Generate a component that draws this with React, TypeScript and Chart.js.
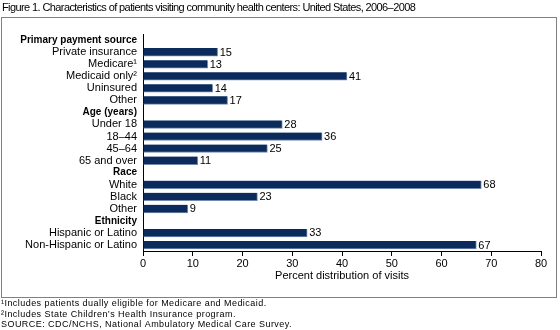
import React, { useEffect, useRef } from "react";
import { Chart, registerables } from "chart.js";

Chart.register(...registerables);

const TITLE = "Figure 1. Characteristics of patients visiting community health centers: United States, 2006–2008";
const FOOTNOTES = [
  "¹Includes patients dually eligible for Medicare and Medicaid.",
  "²Includes State Children’s Health Insurance program.",
  "SOURCE: CDC/NCHS, National Ambulatory Medical Care Survey.",
];

const categories = [
  "Primary payment source",
  "Private insurance",
  "Medicare¹",
  "Medicaid only²",
  "Uninsured",
  "Other",
  "Age (years)",
  "Under 18",
  "18–44",
  "45–64",
  "65 and over",
  "Race",
  "White",
  "Black",
  "Other",
  "Ethnicity",
  "Hispanic or Latino",
  "Non-Hispanic or Latino",
];
const headers = ["Primary payment source", "Age (years)", "Race", "Ethnicity"];
const values: (number | null)[] = [
  null, 15, 13, 41, 14, 17,
  null, 28, 36, 25, 11,
  null, 68, 23, 9,
  null, 33, 67,
];
const xTicks = [0, 10, 20, 30, 40, 50, 60, 70, 80];
const X_TITLE = "Percent distribution of visits";

const FONT = '"Liberation Sans", Arial, Helvetica, sans-serif';
const BAR = "#0a2b5c";

export default function App() {
  const ref = useRef<HTMLCanvasElement | null>(null);
  useEffect(() => {
    document.body.style.margin = "0";
    const canvas = ref.current!;
    const extras = {
      id: "extras",
      beforeDraw(chart: any) {
        const { ctx } = chart;
        ctx.save();
        ctx.fillStyle = "#fff";
        ctx.fillRect(0, 0, chart.width, chart.height);
        ctx.strokeStyle = "#808080";
        ctx.lineWidth = 1;
        ctx.strokeRect(1.5, 17.5, 555, 280);
        ctx.fillStyle = "#000";
        ctx.textBaseline = "middle";
        ctx.textAlign = "left";
        ctx.font = `11px ${FONT}`;
        (ctx as any).letterSpacing = "-0.6px";
        ctx.fillText(TITLE, 2, 8);
        ctx.font = `9px ${FONT}`;
        (ctx as any).letterSpacing = "0.45px";
        FOOTNOTES.forEach((t, i) => ctx.fillText(t, 1, 304 + i * 10.5));
        (ctx as any).letterSpacing = "0px";
        ctx.restore();
      },
      afterDatasetsDraw(chart: any) {
        const { ctx } = chart;
        const meta = chart.getDatasetMeta(0);
        ctx.save();
        ctx.fillStyle = "#000";
        ctx.font = `11px ${FONT}`;
        ctx.textBaseline = "middle";
        ctx.textAlign = "left";
        meta.data.forEach((bar: any, i: number) => {
          const v = values[i];
          if (v == null) return;
          ctx.fillText(String(v), bar.x + 2, bar.y + 0.5);
        });
        ctx.restore();
      },
    };
    const chart = new Chart(canvas, {
      type: "bar",
      data: {
        labels: categories,
        datasets: [
          {
            data: values as any,
            backgroundColor: BAR,
            borderColor: "#7489ab",
            borderWidth: { top: 0, left: 0, right: 1, bottom: 1 },
            borderSkipped: false,
            barThickness: 8,
          },
        ],
      },
      plugins: [extras],
      options: {
        indexAxis: "y",
        animation: false,
        responsive: false,
        maintainAspectRatio: false,
        layout: { padding: { left: 0, right: 19, top: 34, bottom: 47 } },
        plugins: {
          legend: { display: false },
          tooltip: { enabled: false },
          title: { display: false },
        },
        scales: {
          x: {
            type: "linear",
            min: 0,
            max: 80,
            afterBuildTicks: (s: any) => {
              s.ticks = xTicks.map((v) => ({ value: v }));
            },
            afterFit: (s: any) => {
              s.height = 32;
            },
            grid: {
              display: true,
              drawOnChartArea: false,
              drawTicks: true,
              tickLength: 5,
              color: "#000",
              lineWidth: 1,
            },
            border: { display: true, color: "#000", width: 1 },
            ticks: {
              color: "#000",
              font: { family: FONT, size: 11 },
              padding: 1,
              maxRotation: 0,
            },
            title: {
              display: true,
              text: X_TITLE,
              color: "#000",
              font: { family: FONT, size: 11 },
              padding: 0,
            },
          },
          y: {
            type: "category",
            afterFit: (s: any) => {
              s.width = 143;
            },
            grid: { display: false, drawTicks: false },
            border: { display: true, color: "#000", width: 1 },
            ticks: {
              color: "#000",
              padding: 6,
              autoSkip: false,
              font: (c: any) =>
                headers.includes(categories[c.index])
                  ? { family: FONT, size: 10, weight: "bold" }
                  : { family: FONT, size: 11, weight: "normal" },
            },
          },
        },
      },
    });
    return () => chart.destroy();
  }, []);
  return (
    <div style={{ position: "absolute", left: 0, top: 0, width: 560, height: 330 }}>
      <canvas ref={ref} width={560} height={330} style={{ width: 560, height: 330, display: "block" }} />
    </div>
  );
}
